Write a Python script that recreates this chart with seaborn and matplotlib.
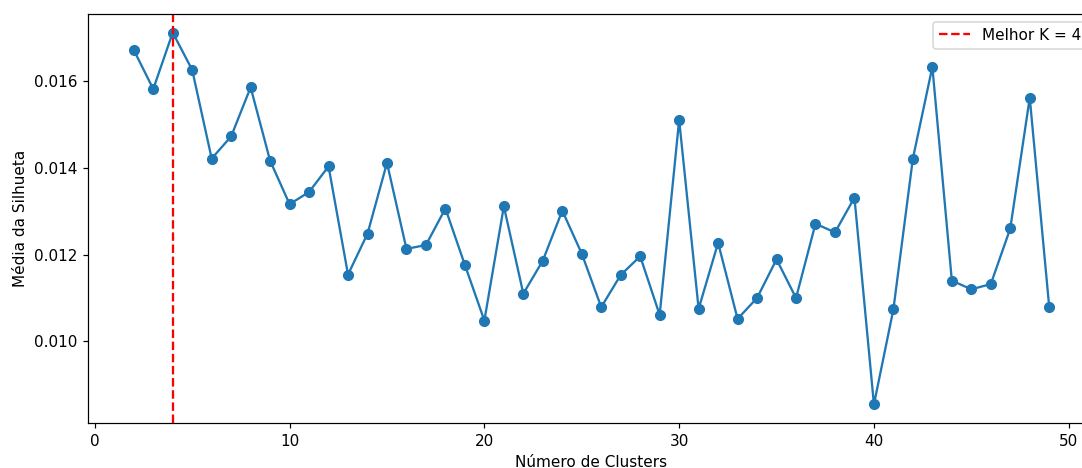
import numpy as np
import pandas as pd
import seaborn as sns
import matplotlib
matplotlib.use('Agg')
import matplotlib.pyplot as plt

# Silhouette scores per number of clusters
k_values = list(range(2, 50))
silhouette = [
    0.01671, 0.01581, 0.01711, 0.01625, 0.01421, 0.01472, 0.01585, 0.01416,
    0.01316, 0.01344, 0.01403, 0.01154, 0.01248, 0.01411, 0.01213, 0.01222,
    0.01306, 0.01176, 0.01048, 0.01311, 0.01110, 0.01186, 0.01301, 0.01202,
    0.01079, 0.01153, 0.01196, 0.01061, 0.01510, 0.01075, 0.01227, 0.01052,
    0.01100, 0.01189, 0.01100, 0.01271, 0.01251, 0.01331, 0.00855, 0.01074,
    0.01421, 0.01632, 0.01140, 0.01120, 0.01132, 0.01260, 0.01561, 0.01079,
]
best_k = 4

df = pd.DataFrame({'k': k_values, 'silhueta': silhouette})

DPI = 110
fig = plt.figure(figsize=(1082 / DPI, 468 / DPI), dpi=DPI)
# axes extends past the right edge, like the cropped original
ax = fig.add_axes([88 / 1082, 45 / 468, 1007 / 1082, 409 / 468])

sns.lineplot(data=df, x='k', y='silhueta', marker='o', color='#1f77b4',
             markeredgecolor='#1f77b4', markersize=6.5, linewidth=1.5, ax=ax)
ax.axvline(best_k, color='red', linestyle='--', linewidth=1.5,
           label=f'Melhor K = {best_k}')

ax.set_xlabel('Número de Clusters')
ax.set_ylabel('Média da Silhueta')
ax.set_yticks([0.010, 0.012, 0.014, 0.016])
ax.legend(loc='upper right')

fig.savefig('out.png', dpi=DPI)
